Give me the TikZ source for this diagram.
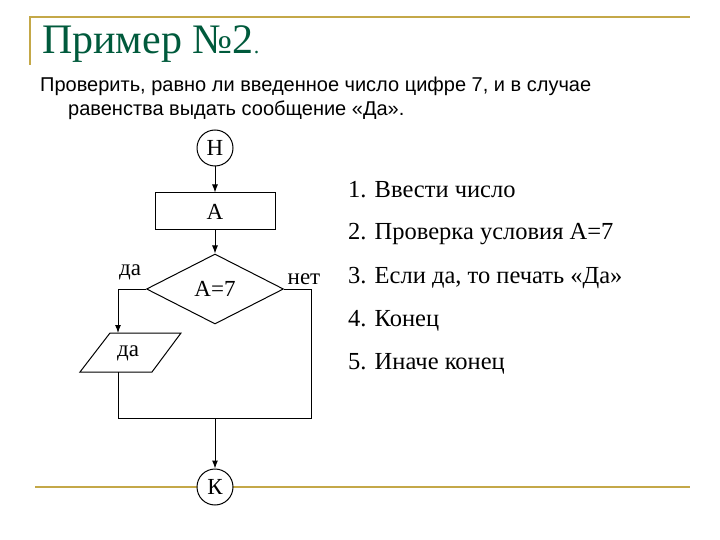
\documentclass[tikz,border=0pt]{standalone}
\usepackage{fontspec}
\setmainfont{Liberation Serif}
\newfontfamily\arial{Liberation Sans}
\usetikzlibrary{shapes.geometric,arrows.meta}
\definecolor{gold}{RGB}{196,168,72}
\definecolor{titlegreen}{RGB}{0,90,60}
\begin{document}
\begin{tikzpicture}[x=1pt,y=-1pt,
  line/.style={draw,line width=1pt},
  arr/.style={line,-{Latex[length=8pt,width=6pt]}},
  term/.style={circle,draw,line width=1pt,minimum size=36pt,inner sep=0pt,font=\fontsize{23}{23}\selectfont},
  lbl/.style={font=\fontsize{23}{23}\selectfont},
  item/.style={anchor=west,font=\fontsize{24.5}{24.5}\selectfont}]
\useasboundingbox (0,0) rectangle (720,540);
\draw[gold,line width=1.5pt] (30,65) -- (30,17) -- (690,17);
\draw[gold,line width=1.5pt] (35,487) -- (690,487);
\node[anchor=west,text=titlegreen,font=\fontsize{42}{42}\selectfont,inner sep=0pt] (title) at (42,44) {Пример №2\fontsize{22}{22}\selectfont.};
\node[anchor=west,font=\arial\fontsize{20}{20}\selectfont,inner sep=0pt] (l1) at (40,86) {Проверить, равно ли введенное число цифре 7, и в случае};
\node[anchor=west,font=\arial\fontsize{20}{20}\selectfont,inner sep=0pt] (l2) at (68,110) {равенства выдать сообщение «Да».};
\node[term,fill=white] (H) at (215,148) {Н};
\node[draw,line width=1pt,minimum width=120pt,minimum height=37pt,lbl] (A) at (215,211.5) {А};
\node[diamond,draw,line width=1pt,aspect=1.96,minimum width=137pt,minimum height=70pt,inner sep=0pt,lbl] (D) at (215,289) {А=7};
\coordinate (pl1) at (110,333);
\coordinate (pl2) at (181,333);
\coordinate (pl3) at (152,372);
\coordinate (pl4) at (80,372);
\draw[line] (pl1) -- (pl2) -- (pl3) -- (pl4) -- cycle;
\node[lbl] (out) at (128,353) {да};
\node[term,fill=white] (K) at (215,487) {К};
\coordinate (ly) at (118,289);
\coordinate (ry) at (311,289);
\coordinate (lb) at (118,418);
\coordinate (rb) at (311,418);
\coordinate (mb) at (215,418);
\draw[arr] (H) -- (A);
\draw[arr] (A) -- (D);
\draw[arr] (D.west) -- (ly) -- (118,333);
\draw[line] (118,372) -- (lb) -- (rb) -- (ry) -- (D.east);
\draw[arr] (mb) -- (K);
\node[lbl] (yes) at (130,272) {да};
\node[lbl] (no) at (304,279) {нет};
\node[item,inner sep=0pt] (i1) at (348,190) {1. Ввести число};
\node[item,inner sep=0pt] (i2) at (348,234) {2. Проверка условия А=7};
\node[item,inner sep=0pt] (i3) at (348,278) {3. Если да, то печать «Да»};
\node[item,inner sep=0pt] (i4) at (348,321) {4. Конец};
\node[item,inner sep=0pt] (i5) at (348,364) {5. Иначе конец};
\end{tikzpicture}
\end{document}
